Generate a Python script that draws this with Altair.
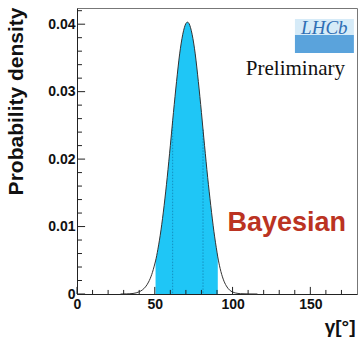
import altair as alt
import pandas as pd

# ---- data ----
gamma = [28, 32, 36, 40, 42, 44, 46, 48, 50, 50.5, 52, 54, 56, 58, 60, 61.5, 62, 64, 66, 68,
         70, 71, 72, 74, 76, 78, 80, 81, 82, 84, 86, 88, 90, 90.5, 92, 94, 96, 98, 100, 102,
         105, 110, 116]
density = [0.0, 0.00002, 0.00008, 0.00033, 0.0006, 0.00105, 0.00177, 0.00286, 0.00445, 0.0049,
           0.00663, 0.0095, 0.0131, 0.0173, 0.0220, 0.0257, 0.0269, 0.0315, 0.0356, 0.0385,
           0.0401, 0.0403, 0.0401, 0.0385, 0.0356, 0.0315, 0.0269, 0.0244, 0.0220, 0.0173,
           0.0131, 0.0093, 0.0062, 0.0055, 0.0038, 0.0022, 0.0012, 0.0006, 0.0003, 0.00015,
           0.00005, 0.00001, 0.0]
band_lo, band_hi = 50.5, 90.5
sigma_lines = [61.5, 81]

x_major = [0, 50, 100, 150]
x_minor = [10, 20, 30, 40, 60, 70, 80, 90, 110, 120, 130, 140, 160, 170]
y_major = [0, 0.01, 0.02, 0.03, 0.04]
y_minor = [0.002, 0.004, 0.006, 0.008, 0.012, 0.014, 0.016, 0.018, 0.022, 0.024, 0.026,
           0.028, 0.032, 0.034, 0.036, 0.038, 0.042]

X_MAX, Y_MAX = 180, 0.0424
W, H = 280, 286

curve = pd.DataFrame({"gamma": gamma, "density": density})

xs = alt.Scale(domain=[0, X_MAX], nice=False, zero=False)
ys = alt.Scale(domain=[0, Y_MAX], nice=False)

FONT = "Liberation Sans"

x_axis = alt.Axis(values=x_major, format="d", ticks=False, tickSize=0, grid=False,
                  labelFont=FONT, labelFontWeight="bold", labelFontSize=14, labelColor="#111",
                  labelPadding=3, labelFlush=False, labelOverlap=False,
                  domainColor="#222", domainWidth=1,
                  title="γ[°]", titleFont=FONT, titleFontWeight="bold", titleFontSize=19,
                  titleColor="#111", titleAnchor="end", titleAlign="right",
                  titleBaseline="alphabetic", titleX=W - 2, titleY=38)
y_axis = alt.Axis(values=y_major, labelExpr="datum.value == 0 ? '0' : format(datum.value, '.2f')",
                  ticks=False, tickSize=0, grid=False,
                  labelFont=FONT, labelFontWeight="bold", labelFontSize=14, labelColor="#111",
                  labelPadding=2, labelFlush=False, labelOverlap=False,
                  domainColor="#222", domainWidth=1,
                  title="Probability density", titleFont=FONT, titleFontWeight="bold",
                  titleFontSize=21, titleColor="#111", titleAngle=-90, titleAlign="right",
                  titleBaseline="alphabetic", titleX=-55, titleY=-1)


def X(field=None, datum=None):
    if datum is not None:
        return alt.X(datum=datum, scale=xs, axis=x_axis)
    return alt.X(field, scale=xs, axis=x_axis)


def Y(field=None, datum=None):
    if datum is not None:
        return alt.Y(datum=datum, scale=ys, axis=y_axis)
    return alt.Y(field, scale=ys, axis=y_axis)


band = alt.Chart(curve).transform_filter(
    (alt.datum.gamma >= band_lo) & (alt.datum.gamma <= band_hi)
).mark_area(color="#1fc6f6", interpolate="monotone").encode(
    x=X("gamma:Q"), y=Y("density:Q"),
)

sig = alt.Chart(curve).transform_filter(
    alt.FieldOneOfPredicate(field="gamma", oneOf=sigma_lines)
).mark_rule(color="#1590c0", strokeDash=[1.5, 1.5], strokeWidth=1).encode(
    x=X("gamma:Q"), y=Y("density:Q"), y2=alt.datum(0),
)

line = alt.Chart(curve).mark_line(color="#333", strokeWidth=1, interpolate="monotone").encode(
    x=X("gamma:Q"), y=Y("density:Q"),
)

X_MAJ_LEN, X_MIN_LEN = 0.00105, 0.0006   # tick lengths in density units
Y_MAJ_LEN, Y_MIN_LEN = 5.2, 3.2          # tick lengths in degrees


def xticks(vals, length):
    return alt.Chart(pd.DataFrame({"v": vals})).mark_rule(color="#222", strokeWidth=1).encode(
        x=X("v:Q"), y=Y(datum=0), y2=alt.datum(length),
    )


def yticks(vals, length):
    return alt.Chart(pd.DataFrame({"v": vals})).mark_rule(color="#222", strokeWidth=1).encode(
        y=Y("v:Q"), x=X(datum=0), x2=alt.datum(length),
    )


# annotations (positions in data units)
logo_box = pd.DataFrame({"x1": [140.1, 140.1], "x2": [178, 178],
                         "y1": [0.04077, 0.0384], "y2": [0.0384, 0.03573],
                         "c": ["#d6ebf8", "#5aa3dc"]})
logo = alt.Chart(logo_box).mark_rect().encode(
    x=X("x1:Q"), x2="x2:Q", y=Y("y1:Q"), y2="y2:Q",
    color=alt.Color("c:N", scale=None),
)
logo_txt = alt.Chart(pd.DataFrame({"x": [159], "y": [0.0386], "t": ["LHCb"]})).mark_text(
    font="Liberation Serif", fontStyle="italic", fontSize=19, align="center",
    baseline="alphabetic", color="#2f6fb5").encode(
    x=X("x:Q"), y=Y("y:Q"), text="t:N",
)

prelim = alt.Chart(pd.DataFrame({"x": [140.4], "y": [0.03247], "t": ["Preliminary"]})).mark_text(
    font="Liberation Serif", fontSize=21, color="#111", align="center", baseline="alphabetic"
).encode(x=X("x:Q"), y=Y("y:Q"), text="t:N")

bayes = alt.Chart(pd.DataFrame({"x": [134.8], "y": [0.00934], "t": ["Bayesian"]})).mark_text(
    font=FONT, fontSize=27, fontWeight="bold", color="#bb3322", align="center",
    baseline="alphabetic"
).encode(x=X("x:Q"), y=Y("y:Q"), text="t:N")

chart = alt.layer(
    band, sig, line,
    xticks(x_major, X_MAJ_LEN), xticks(x_minor, X_MIN_LEN),
    yticks(y_major, Y_MAJ_LEN), yticks(y_minor, Y_MIN_LEN),
    logo, logo_txt, prelim, bayes,
).properties(
    width=W, height=H,
    autosize=alt.AutoSizeParams(type="none"),
    padding={"left": 77, "top": 8, "right": 2, "bottom": 44},
    background="white",
).configure_view(stroke="#777", strokeWidth=1)

chart.save("out.html", embed_options={"renderer": "svg", "actions": False})
